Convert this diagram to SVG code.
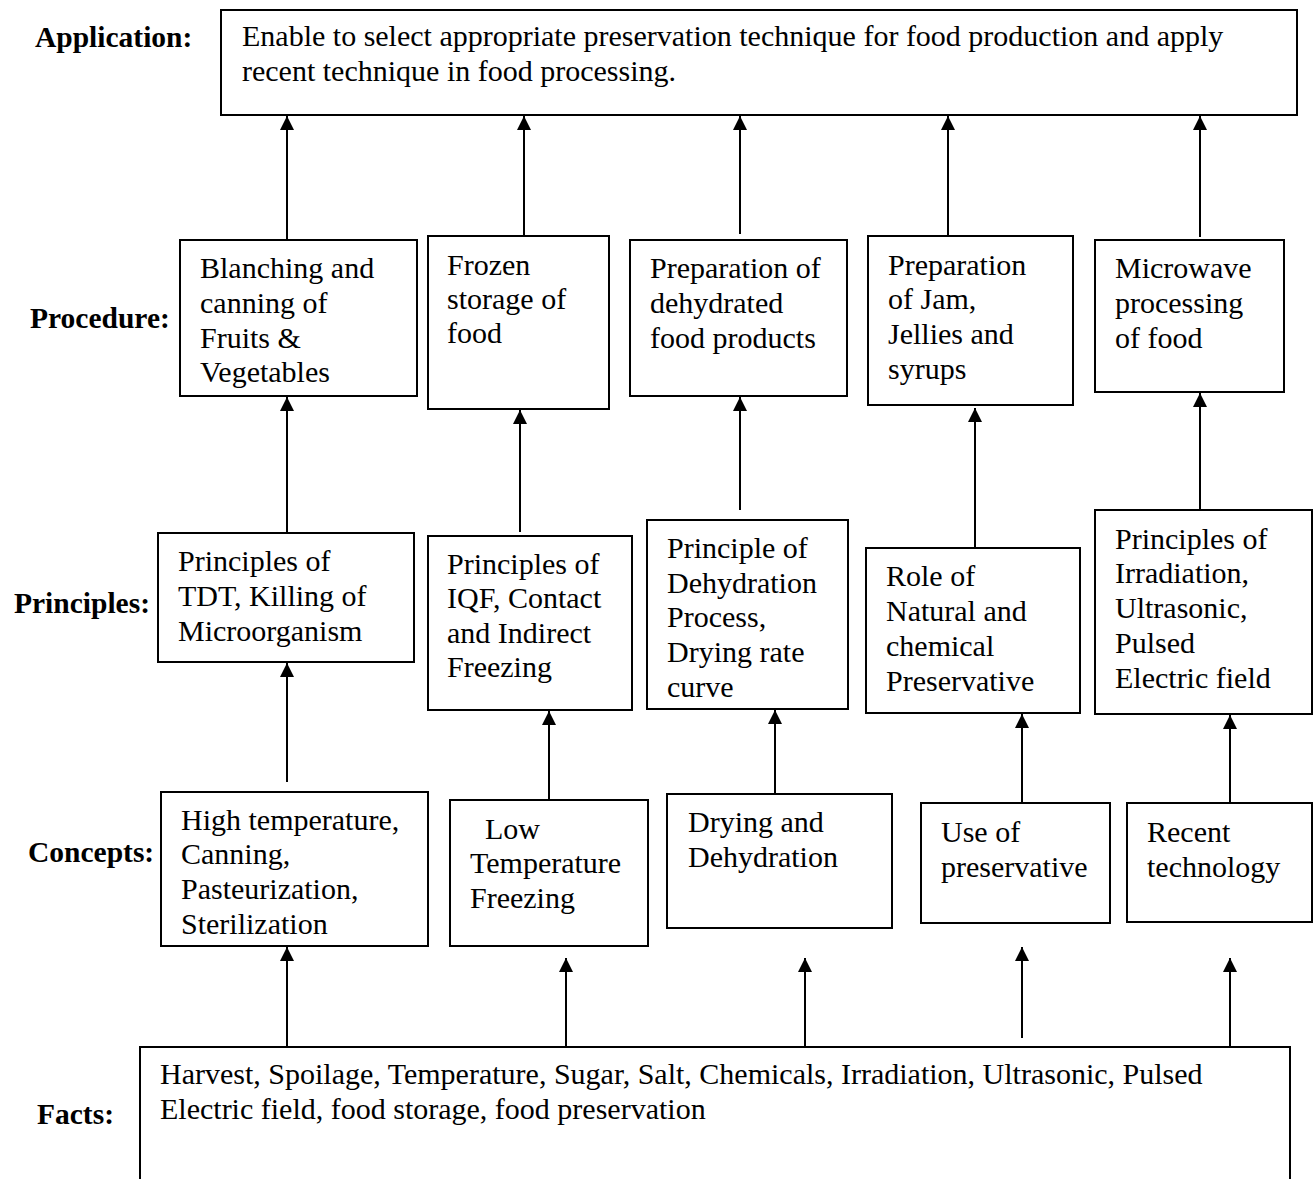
<svg xmlns="http://www.w3.org/2000/svg" width="1315" height="1179" viewBox="0 0 1315 1179">
<style>
.box{fill:#fff;stroke:#000;stroke-width:2}
.t{font-family:"Liberation Serif","Times New Roman",serif;font-size:30px;fill:#000}
.lb{font-family:"Liberation Serif","Times New Roman",serif;font-size:29.5px;font-weight:bold;fill:#000}
.c{stroke:#000;stroke-width:2;fill:none;marker-end:url(#ah)}
</style>
<defs>
<marker id="ah" markerUnits="userSpaceOnUse" markerWidth="16" markerHeight="16" viewBox="0 0 16 16" refX="8" refY="0" orient="0">
<path d="M8,0 L15,14 L1,14 Z" fill="#000"/>
</marker>
</defs>
<rect width="1315" height="1179" fill="#fff"/>
<g id="labels">
<text class="lb" x="35" y="47">Application:</text>
<text class="lb" x="30" y="328">Procedure:</text>
<text class="lb" x="14" y="613">Principles:</text>
<text class="lb" x="28" y="862">Concepts:</text>
<text class="lb" x="37" y="1124">Facts:</text>
</g>
<g id="connectors">
<path class="c" d="M287,240 V116"/>
<path class="c" d="M524,238 V116"/>
<path class="c" d="M740,234 V116"/>
<path class="c" d="M948,237 V116"/>
<path class="c" d="M1200,237 V116"/>
<path class="c" d="M287,532 V397"/>
<path class="c" d="M520,532 V410"/>
<path class="c" d="M740,510 V397"/>
<path class="c" d="M975,548 V408"/>
<path class="c" d="M1200,510 V393"/>
<path class="c" d="M287,782 V663"/>
<path class="c" d="M549,802 V711"/>
<path class="c" d="M775,794 V710"/>
<path class="c" d="M1022,803 V714"/>
<path class="c" d="M1230,803 V715"/>
<path class="c" d="M287,1047 V947"/>
<path class="c" d="M566,1047 V958"/>
<path class="c" d="M805,1047 V958"/>
<path class="c" d="M1022,1038 V947"/>
<path class="c" d="M1230,1047 V958"/>
</g>
<g id="application">
<rect class="box" x="221" y="10" width="1076" height="105"/>
<text class="t" x="242" y="46">Enable to select appropriate preservation technique for food production and apply</text>
<text class="t" x="242" y="81">recent technique in food processing.</text>
</g>
<g id="proc1">
<rect class="box" x="180" y="240" width="237" height="156"/>
<text class="t" x="200" y="278">Blanching and</text>
<text class="t" x="200" y="313">canning of</text>
<text class="t" x="200" y="348">Fruits &amp;</text>
<text class="t" x="200" y="382">Vegetables</text>
</g>
<g id="proc2">
<rect class="box" x="428" y="236" width="181" height="173"/>
<text class="t" x="447" y="275">Frozen</text>
<text class="t" x="447" y="309">storage of</text>
<text class="t" x="447" y="343">food</text>
</g>
<g id="proc3">
<rect class="box" x="630" y="240" width="217" height="156"/>
<text class="t" x="650" y="278">Preparation of</text>
<text class="t" x="650" y="313">dehydrated</text>
<text class="t" x="650" y="348">food products</text>
</g>
<g id="proc4">
<rect class="box" x="868" y="236" width="205" height="169"/>
<text class="t" x="888" y="275">Preparation</text>
<text class="t" x="888" y="309">of Jam,</text>
<text class="t" x="888" y="344">Jellies and</text>
<text class="t" x="888" y="379">syrups</text>
</g>
<g id="proc5">
<rect class="box" x="1095" y="240" width="189" height="152"/>
<text class="t" x="1115" y="278">Microwave</text>
<text class="t" x="1115" y="313">processing</text>
<text class="t" x="1115" y="348">of food</text>
</g>
<g id="prin1">
<rect class="box" x="158" y="533" width="256" height="129"/>
<text class="t" x="178" y="571">Principles of</text>
<text class="t" x="178" y="606">TDT, Killing of</text>
<text class="t" x="178" y="641">Microorganism</text>
</g>
<g id="prin2">
<rect class="box" x="428" y="536" width="204" height="174"/>
<text class="t" x="447" y="574">Principles of</text>
<text class="t" x="447" y="608">IQF, Contact</text>
<text class="t" x="447" y="643">and Indirect</text>
<text class="t" x="447" y="677">Freezing</text>
</g>
<g id="prin3">
<rect class="box" x="647" y="520" width="201" height="189"/>
<text class="t" x="667" y="558">Principle of</text>
<text class="t" x="667" y="593">Dehydration</text>
<text class="t" x="667" y="627">Process,</text>
<text class="t" x="667" y="662">Drying rate</text>
<text class="t" x="667" y="697">curve</text>
</g>
<g id="prin4">
<rect class="box" x="866" y="548" width="214" height="165"/>
<text class="t" x="886" y="586">Role of</text>
<text class="t" x="886" y="621">Natural and</text>
<text class="t" x="886" y="656">chemical</text>
<text class="t" x="886" y="691">Preservative</text>
</g>
<g id="prin5">
<rect class="box" x="1095" y="510" width="217" height="204"/>
<text class="t" x="1115" y="549">Principles of</text>
<text class="t" x="1115" y="583">Irradiation,</text>
<text class="t" x="1115" y="618">Ultrasonic,</text>
<text class="t" x="1115" y="653">Pulsed</text>
<text class="t" x="1115" y="688">Electric field</text>
</g>
<g id="conc1">
<rect class="box" x="161" y="792" width="267" height="154"/>
<text class="t" x="181" y="830">High temperature,</text>
<text class="t" x="181" y="864">Canning,</text>
<text class="t" x="181" y="899">Pasteurization,</text>
<text class="t" x="181" y="934">Sterilization</text>
</g>
<g id="conc2">
<rect class="box" x="450" y="800" width="198" height="146"/>
<text class="t" x="485" y="839">Low</text>
<text class="t" x="470" y="873">Temperature</text>
<text class="t" x="470" y="908">Freezing</text>
</g>
<g id="conc3">
<rect class="box" x="667" y="794" width="225" height="134"/>
<text class="t" x="688" y="832">Drying and</text>
<text class="t" x="688" y="867">Dehydration</text>
</g>
<g id="conc4">
<rect class="box" x="921" y="803" width="189" height="120"/>
<text class="t" x="941" y="842">Use of</text>
<text class="t" x="941" y="877">preservative</text>
</g>
<g id="conc5">
<rect class="box" x="1127" y="803" width="185" height="119"/>
<text class="t" x="1147" y="842">Recent</text>
<text class="t" x="1147" y="877">technology</text>
</g>
<g id="facts">
<path d="M140,1179 V1047 H1290 V1179" fill="#fff" stroke="#000" stroke-width="2"/>
<text class="t" x="160" y="1084">Harvest, Spoilage, Temperature, Sugar, Salt, Chemicals, Irradiation, Ultrasonic, Pulsed</text>
<text class="t" x="160" y="1119">Electric field, food storage, food preservation</text>
</g>
</svg>
